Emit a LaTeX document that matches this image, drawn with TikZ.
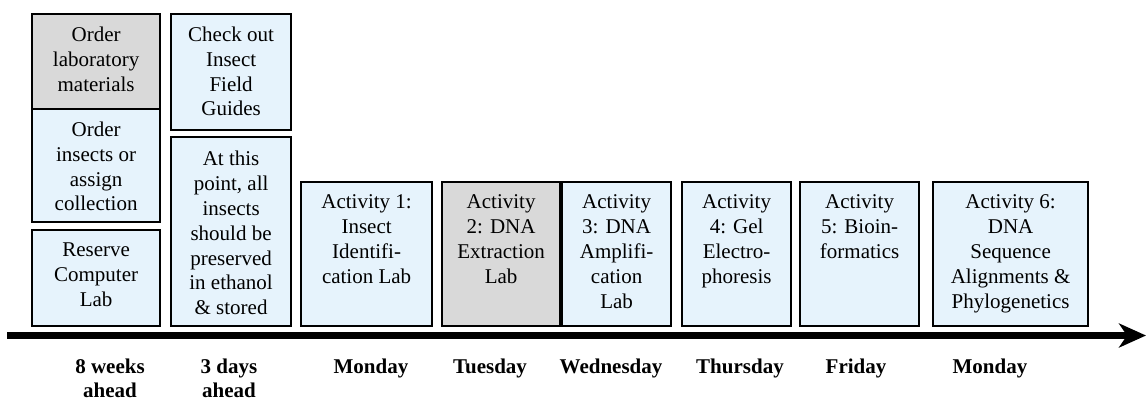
\documentclass[tikz,border=0pt]{standalone}
\usepackage{fontspec}
\setmainfont{Liberation Serif}
\usetikzlibrary{positioning,
        arrows.meta}
\usepackage{xcolor}

\definecolor{skyfill}{RGB}{230,243,252}
\definecolor{greyfill}{RGB}{217,217,217}

\tikzset{
  slot/.style 2 args={draw, line width=1.1pt, fill=skyfill, inner sep=0pt,
        anchor=north west, minimum width=#1*0.5pt, minimum height=#2*0.5pt},
  txt/.style={align=center, inner sep=0pt, font=\fontsize{10.5}{12.4}\selectfont},
  day/.style={align=center, inner sep=0pt, anchor=north,
        font=\fontsize{10.5}{12}\selectfont\bfseries}
}

\begin{document}
\begin{tikzpicture}[x=0.5pt, y=-0.5pt]
        \useasboundingbox (0,0) rectangle (1146,398);

        % preparation
        \node [slot={128}{95}, fill=greyfill] (order) at (31,13) {};
        \node [slot={128}{113}] (insects) at (31,108) {};
        \node [slot={128}{96}] (reserve) at (31,229) {};
        \node [slot={120}{116}] (guides) at (170,13) {};
        \node [slot={120}{189}] (stored) at (170,136) {};

        % activities
        \node [slot={131}{144}] (act1) at (300,181) {};
        \node [slot={118}{144}, fill=greyfill] (act2) at (441,181) {};
        \node [slot={109}{144}] (act3) at (561,181) {};
        \node [slot={109}{144}] (act4) at (681,181) {};
        \node [slot={119}{144}] (act5) at (799,181) {};
        \node [slot={155}{144}] (act6) at (932,181) {};

        \node [txt, below=6.8pt of order.north] (ordertxt) {Order\\laboratory\\materials};
        \node [txt, below=6.8pt of insects.north] (insectstxt) {Order\\insects or\\assign\\collection};
        \node [txt, below=6.8pt of reserve.north] (reservetxt) {Reserve\\Computer\\Lab};
        \node [txt, below=6.8pt of guides.north] (guidestxt) {Check out\\Insect\\Field\\Guides};
        \node [txt, below=7.5pt of stored.north] (storedtxt) {At this\\point, all\\insects\\should be\\preserved\\in ethanol\\\& stored};
        \node [txt, below=6.8pt of act1.north] (act1txt) {Activity 1:\\Insect\\Identifi-\\cation Lab};
        \node [txt, below=6.8pt of act2.north] (act2txt) {Activity\\2: DNA\\Extraction\\Lab};
        \node [txt, below=6.8pt of act3.north] (act3txt) {Activity\\3: DNA\\Amplifi-\\cation\\Lab};
        \node [txt, below=6.8pt of act4.north] (act4txt) {Activity\\4: Gel\\Electro-\\phoresis};
        \node [txt, below=6.8pt of act5.north] (act5txt) {Activity\\5: Bioin-\\formatics};
        \node [txt, below=6.8pt of act6.north] (act6txt) {Activity 6:\\DNA\\Sequence\\Alignments \&\\Phylogenetics};

        % time line
        \coordinate (start) at (7,335.5);
        \coordinate (end) at (1146,335.5);
        \draw [line width=3.5pt, -{Stealth[length=13.5pt, width=12pt, inset=4pt]}] (start) -- (end);

        \node [day] (weeks) at (110,359) {8 weeks\\ahead};
        \node [day] (days) at (229,359) {3 days\\ahead};
        \node [day] (mon) at (371,359) {Monday};
        \node [day] (tue) at (490,359) {Tuesday};
        \node [day] (wed) at (611,359) {Wednesday};
        \node [day] (thu) at (740,359) {Thursday};
        \node [day] (fri) at (856,359) {Friday};
        \node [day] (nextmon) at (990,359) {Monday};
    \end{tikzpicture}
\end{document}
